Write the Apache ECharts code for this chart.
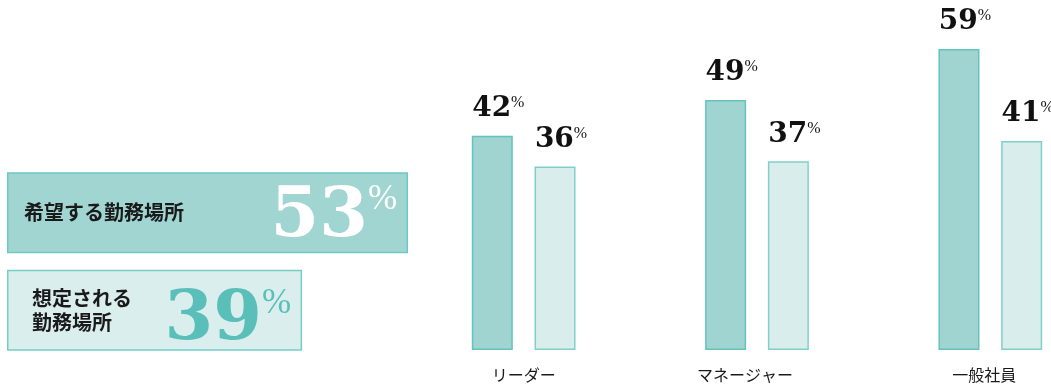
<!DOCTYPE html>
<html>
<head>
<meta charset="utf-8">
<script src="https://cdn.jsdelivr.net/npm/echarts@6/dist/echarts.min.js"></script>
<style>
  html, body { margin: 0; padding: 0; background: #fff; }
  #chart { width: 1051px; height: 390px; }
</style>
</head>
<body>
<div id="chart"></div>
<script>
// Role breakdown: desired vs. expected work location (%)
const categories = ['リーダー', 'マネージャー', '一般社員'];
const desiredByRole = [42, 49, 59];
const expectedByRole = [36, 37, 41];

// Overall figures
const overallLabels = ['希望する勤務場所', '想定される\n勤務場所'];
const overallValues = [53, 39];

const JP_FONT = '"Noto Sans CJK JP", "Noto Sans", sans-serif';
const NUM_FONT = '"DejaVu Serif", serif';
const PCT_FONT = '"Liberation Serif", serif';

const DARK_FILL = '#9fd4d1';
const DARK_BORDER = '#63c4be';
const LIGHT_FILL = '#d9edec';
const LIGHT_BORDER = '#80d0ca';

// small per-category nudges for the axis captions
const captionPadRight = [0, 24, 12];

function smallLabel() {
  return {
    show: true,
    position: 'top',
    distance: 13,
    offset: [6, 0],
    formatter: '{n|{c}}{p|%}',
    rich: {
      n: { fontFamily: NUM_FONT, fontWeight: 'bold', fontSize: 28, lineHeight: 28, color: '#111' },
      p: { fontFamily: PCT_FONT, fontSize: 16, lineHeight: 16, verticalAlign: 'top', color: '#111' }
    }
  };
}

function bigLabel(color, dy) {
  return {
    show: true,
    position: 'insideRight',
    distance: 11,
    offset: [0, dy],
    formatter: '{n|{c}}{p|%}',
    rich: {
      n: { fontFamily: NUM_FONT, fontWeight: 'bold', fontSize: 70, lineHeight: 70, color: color },
      p: { fontFamily: PCT_FONT, fontSize: 35, lineHeight: 35, verticalAlign: 'top', color: color }
    }
  };
}

const overallStyles = [
  { fill: '#a0d5d2', border: '#6cc9c2', text: '#ffffff', pad: 0, dy: 5 },
  { fill: '#daeeed', border: '#76cdc7', text: '#5bbfb9', pad: 8, dy: 11 }
];

const overallData = overallValues.map((v, i) => ({
  value: v,
  itemStyle: { color: overallStyles[i].fill, borderColor: overallStyles[i].border, borderWidth: 1.5 },
  label: bigLabel(overallStyles[i].text, overallStyles[i].dy)
}));

const overallAxisData = overallLabels.map((name, i) => ({
  value: name,
  textStyle: { padding: [0, 0, 0, overallStyles[i].pad] }
}));

const categoryAxisData = categories.map((name, i) => ({
  value: name,
  textStyle: { padding: [0, captionPadRight[i], 0, 0] }
}));

const chart = echarts.init(document.getElementById('chart'), null, { renderer: 'canvas' });

chart.setOption({
  backgroundColor: '#ffffff',
  animation: false,
  grid: [
    { left: 407, width: 700, top: 44, bottom: 40, containLabel: false, outerBoundsMode: 'none' },
    { left: 7, width: 454, top: 164, height: 195, containLabel: false, outerBoundsMode: 'none' }
  ],
  xAxis: [
    {
      type: 'category',
      gridIndex: 0,
      data: categoryAxisData,
      axisLine: { show: false },
      axisTick: { show: false },
      axisLabel: { margin: 17, fontSize: 16, color: '#1a1a1a', fontFamily: JP_FONT }
    },
    { type: 'value', gridIndex: 1, min: 0, max: 60, show: false }
  ],
  yAxis: [
    { type: 'value', gridIndex: 0, min: 0, max: 60, show: false },
    {
      type: 'category',
      gridIndex: 1,
      inverse: true,
      data: overallAxisData,
      z: 10,
      axisLine: { show: false },
      axisTick: { show: false },
      axisLabel: {
        inside: true,
        margin: 17,
        fontSize: 20,
        lineHeight: 24,
        fontWeight: 'bold',
        color: '#1a1a1a',
        fontFamily: JP_FONT
      }
    }
  ],
  series: [
    {
      name: '希望する勤務場所',
      type: 'bar',
      xAxisIndex: 0,
      yAxisIndex: 0,
      data: desiredByRole,
      barWidth: 41,
      barGap: '53%',
      itemStyle: { color: DARK_FILL, borderColor: DARK_BORDER, borderWidth: 1.5 },
      label: smallLabel()
    },
    {
      name: '想定される勤務場所',
      type: 'bar',
      xAxisIndex: 0,
      yAxisIndex: 0,
      data: expectedByRole,
      barWidth: 41,
      itemStyle: { color: LIGHT_FILL, borderColor: LIGHT_BORDER, borderWidth: 1.5 },
      label: smallLabel()
    },
    {
      name: '全体',
      type: 'bar',
      xAxisIndex: 1,
      yAxisIndex: 1,
      data: overallData,
      barWidth: 81,
      z: 2
    }
  ]
});
</script>
</body>
</html>
